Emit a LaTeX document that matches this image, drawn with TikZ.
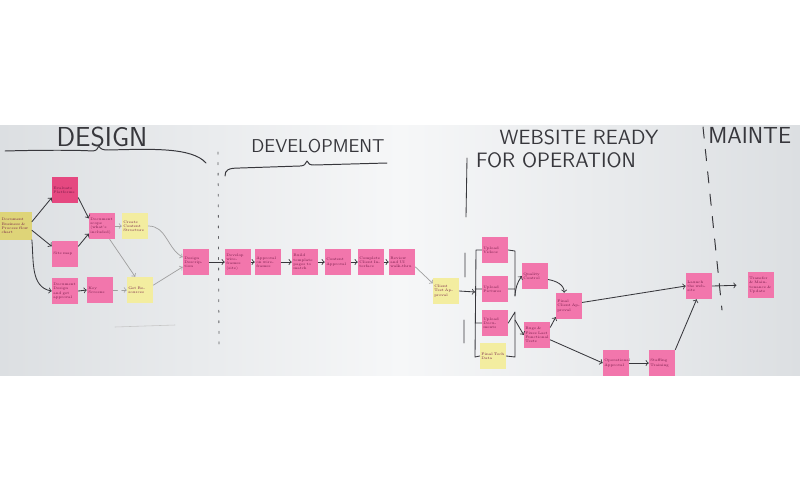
\documentclass[tikz,border=0pt]{standalone}
\usepackage{tikz}
\usetikzlibrary{arrows}
\definecolor{boardlo}{RGB}{220,223,226}
\definecolor{boardhi}{RGB}{246,247,248}
\definecolor{pinknote}{RGB}{242,118,172}
\definecolor{hotnote}{RGB}{229,72,128}
\definecolor{yellownote}{RGB}{243,237,160}
\definecolor{khakinote}{RGB}{222,212,120}
\definecolor{ink}{RGB}{55,55,60}
\definecolor{notetext}{RGB}{115,25,70}

\begin{document}
\begin{tikzpicture}[x=.025cm,y=-.025cm,line cap=round,line join=round,
  stickynote/.style={minimum width=.65cm,minimum height=.65cm,inner sep=.6pt,
    text width=.58cm,align=left,font=\fontsize{2.6}{3}\selectfont,text=notetext},
  pnote/.style={stickynote,fill=pinknote},
  hnote/.style={stickynote,fill=hotnote},
  ynote/.style={stickynote,fill=yellownote},
  heading/.style={text=ink,inner sep=0pt,anchor=base},
  link/.style={ink,line width=.6pt,->},
  faint/.style={gray!75,line width=.5pt,->}]
  \useasboundingbox (0,0) rectangle (800,500);
  \fill[white] (0,0) rectangle (800,500);
  \shade[left color=boardlo,right color=boardlo,middle color=boardhi] (0,125) rectangle (800,375);

  \node[heading,font=\sffamily\fontsize{19.5}{20}\selectfont] (hdesign) at (102,146) {DESIGN};
  \node[heading,font=\sffamily\fontsize{13.2}{13}\selectfont] (hdevel) at (318,152) {DEVELOPMENT};
  \node[heading,font=\sffamily\fontsize{14.6}{15}\selectfont] (hready) at (579,144) {WEBSITE READY};
  \node[heading,font=\sffamily\fontsize{14.8}{15}\selectfont] (hoper) at (556,167) {FOR OPERATION};
  \node[heading,font=\sffamily\fontsize{16.5}{17}\selectfont,anchor=base west] (hmaint) at (708,143) {MAINTE};

  \draw[ink,line width=.7pt] (5,151) .. controls (40,150) and (80,150) .. (92,151)
    .. controls (96,151) and (98,149) .. (99,146) .. controls (100,149) and (103,150) .. (108,150)
    .. controls (150,149) and (192,147) .. (206,163);
  \draw[ink,line width=.7pt] (225,176) .. controls (225,170) and (228,168) .. (240,168) -- (300,166)
    .. controls (304,166) and (306,164) .. (307,161) .. controls (308,164) and (310,165) .. (314,165) -- (387,163);

  \draw[ink!80,line width=.6pt,dash pattern=on 1.5pt off 6pt] (218,152) -- (219,345);
  \draw[ink,line width=.6pt] (467,158) -- (466,217) (465,253) -- (465,277) (464,320) -- (464,343);
  \draw[ink,line width=.7pt,dash pattern=on 8pt off 8pt] (703,127) -- (722,310);
  \draw[gray!45,line width=.4pt] (115,327) -- (175,325);

  \node[ynote,fill=khakinote,minimum width=.78cm,minimum height=.68cm,text width=.72cm] (doc) at (16,226) {Document Business \& Process flow chart};
  \node[hnote] (eval) at (65,190) {Evaluate Platforms};
  \node[pnote] (scope) at (102,226) {Document scope (what's included)};
  \node[ynote] (content) at (135,226) {Create Content Structure};
  \node[pnote] (sitemap) at (65,254) {Site map};
  \node[pnote] (docdesign) at (65,291) {Document Design and get approval};
  \node[pnote] (keyscreens) at (100,290) {Key Screens};
  \node[ynote] (resources) at (140,290) {Get Resources};
  \node[pnote] (designdesc) at (196,262) {Design Description};

  \node[pnote] (wireframes) at (238,262) {Develop wireframes (site)};
  \node[pnote] (approval) at (268,262) {Approval on wireframes};
  \node[pnote] (templates) at (305,262) {Build template pages to match};
  \node[pnote] (contentapp) at (338,262) {Content Approval};
  \node[pnote] (interface) at (371,262) {Complete Client Interface};
  \node[pnote] (review) at (402,262) {Review and UI walk-thru};

  \node[ynote] (client) at (446,291) {Client Test Approval};
  \node[pnote] (videos) at (495,250) {Upload Videos};
  \node[pnote] (pictures) at (495,289) {Upload Pictures};
  \node[pnote] (documents) at (495,323) {Upload Documents};
  \node[ynote] (finaldata) at (493,356) {Final Tech Data};
  \node[pnote] (quality) at (535,276) {Quality Control};
  \node[pnote] (bugs) at (537,335) {Bugs \& Fixes Last Functional Tests};
  \node[pnote] (finalapp) at (569,306) {Final Client Approval};
  \node[pnote] (operational) at (616,363) {Operational Approval};
  \node[pnote] (staffing) at (662,363) {Staffing Training};
  \node[pnote] (launch) at (699,286) {Launch the website};
  \node[pnote] (transfer) at (761,285) {Transfer \& Maintenance \& Update};

  \coordinate (lbr) at (475,292);
  \coordinate (rbtop) at (515,296);
  \coordinate (rbbot) at (515,320);

  \draw[link] (doc.15) -- (eval.210);
  \draw[link] (doc.-15) -- (sitemap.150);
  \draw[link] (doc.south east) to[out=-85,in=170] (docdesign.west);
  \draw[link] (eval.-30) -- (scope.150);
  \draw[link] (sitemap.30) -- (scope.210);
  \draw[faint] (scope.east) -- (content.west);
  \draw[faint] (scope.-60) -- (resources.110);
  \draw[link] (docdesign.east) -- (keyscreens.west);
  \draw[faint,dashed] (keyscreens.east) -- (resources.west);
  \draw[faint] (content.east) to[out=0,in=150] (designdesc.160);
  \draw[faint] (resources.20) -- (designdesc.200);

  \draw[link] (designdesc.east) -- (wireframes.west);
  \draw[link] (wireframes.east) -- (approval.west);
  \draw[link] (approval.east) -- (templates.west);
  \draw[link] (templates.east) -- (contentapp.west);
  \draw[link] (contentapp.east) -- (interface.west);
  \draw[link] (interface.east) -- (review.west);
  \draw[faint] (review.-20) -- (client.150);

  \draw[link] (client.east) -- (lbr);
  \draw[ink,line width=.6pt] (videos.west) -- (476,250) -- (475,357) -- (finaldata.west)
    (475,289) -- (pictures.west) (475,323) -- (documents.west);
  \draw[ink,line width=.6pt] (videos.east) -- (515,251) -- (rbtop) (pictures.east) -- (515,289);
  \draw[ink,line width=.6pt] (documents.east) -- (515,312) -- (515,357) -- (finaldata.east);
  \draw[link] (rbtop) to[bend left=15] (quality.west);
  \draw[link] (rbbot) -- (bugs.west);

  \draw[link] (quality.-15) to[out=-10,in=90] (finalapp.110);
  \draw[link] (bugs.30) -- (finalapp.220);
  \draw[link] (finalapp.15) -- (launch.west);
  \draw[link] (bugs.-20) -- (operational.west);
  \draw[link] (operational.east) -- (staffing.west);
  \draw[link] (staffing.north east) -- (launch.-100);
  \draw[link,shorten >=8pt] (launch.east) -- (transfer.west);
\end{tikzpicture}
\end{document}
